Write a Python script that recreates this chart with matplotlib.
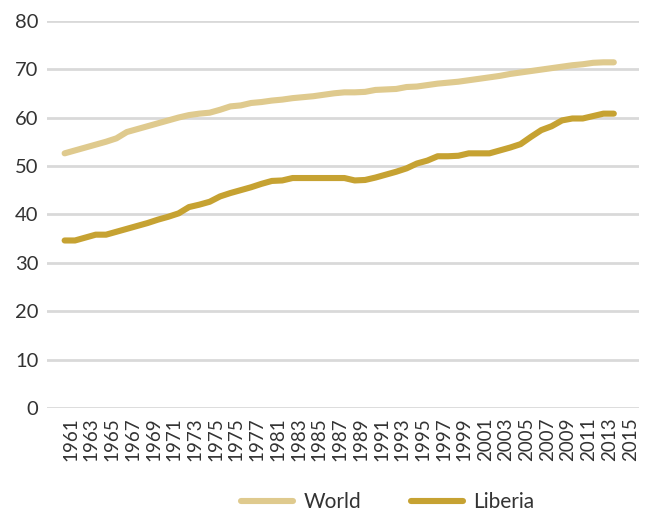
import numpy as np
import matplotlib
matplotlib.use('Agg')
import matplotlib.pyplot as plt
import matplotlib.transforms as mtransforms

plt.rcParams['font.family'] = ['Lato', 'DejaVu Sans']

years = list(range(1961, 2015))

world = [52.6, 53.2, 53.8, 54.4, 55.0, 55.7, 57.0, 57.6, 58.2, 58.8,
         59.4, 60.0, 60.5, 60.8, 61.0, 61.6, 62.3, 62.5, 63.0, 63.2,
         63.5, 63.7, 64.0, 64.2, 64.4, 64.7, 65.0, 65.2, 65.2, 65.3,
         65.7, 65.8, 65.9, 66.3, 66.4, 66.7, 67.0, 67.2, 67.4, 67.7,
         68.0, 68.3, 68.6, 69.0, 69.3, 69.6, 69.9, 70.2, 70.5, 70.8,
         71.0, 71.3, 71.4, 71.4]

liberia = [34.6, 34.6, 35.2, 35.8, 35.8, 36.4, 37.0, 37.6, 38.2, 38.9,
           39.5, 40.2, 41.5, 42.0, 42.6, 43.7, 44.4, 45.0, 45.6, 46.3,
           46.9, 47.0, 47.5, 47.5, 47.5, 47.5, 47.5, 47.5, 47.0, 47.1,
           47.6, 48.2, 48.8, 49.5, 50.5, 51.1, 52.0, 52.0, 52.1, 52.6,
           52.6, 52.6, 53.2, 53.8, 54.5, 56.0, 57.4, 58.2, 59.4, 59.8,
           59.8, 60.3, 60.8, 60.8]

tick_years = list(range(1961, 2016, 2))
tick_labels = ['1961', '1963', '1965', '1967', '1969', '1971', '1973', '1975',
               '1975', '1977', '1981', '1983', '1985', '1987', '1989', '1991',
               '1993', '1995', '1997', '1999', '2001', '2003', '2005', '2007',
               '2009', '2011', '2013', '2015']

c_world = '#DFCA8E'
c_liberia = '#C6A232'
c_grid = '#D9D9D9'
c_text = '#333333'

fig = plt.figure(figsize=(6.45, 5.11), dpi=100)
ax = fig.add_axes([0.0724, 0.2016, 0.9183, 0.7579])

ax.plot(years, world, color=c_world, lw=4.4, solid_capstyle='round',
        solid_joinstyle='round', label='World', zorder=3)
ax.plot(years, liberia, color=c_liberia, lw=4.4, solid_capstyle='round',
        solid_joinstyle='round', label='Liberia', zorder=3)

ax.set_ylim(0, 80)
ax.set_xlim(1959.27, 2016.43)
ax.set_yticks(np.arange(0, 81, 10))
ax.set_xticks(tick_years)
ax.set_xticklabels(tick_labels, rotation=90, fontsize=13.5, color=c_text)
ax.tick_params(axis='y', labelsize=14.5, labelcolor=c_text, length=0, pad=6)
ax.tick_params(axis='x', length=0, pad=7)

# shift rotated year labels slightly right
offset = mtransforms.ScaledTranslation(6 / 100, 0, fig.dpi_scale_trans)
for lbl in ax.get_xticklabels():
    lbl.set_transform(lbl.get_transform() + offset)

ax.grid(axis='y', color=c_grid, lw=2)
ax.set_axisbelow(True)
for s in ax.spines.values():
    s.set_visible(False)

fig.legend(loc='center', bbox_to_anchor=(0.601, 0.018), ncol=2, frameon=False,
           fontsize=15, handlelength=2.5, handletextpad=0.5, columnspacing=2.4,
           labelcolor=c_text)

fig.savefig('out.png', dpi=100)
